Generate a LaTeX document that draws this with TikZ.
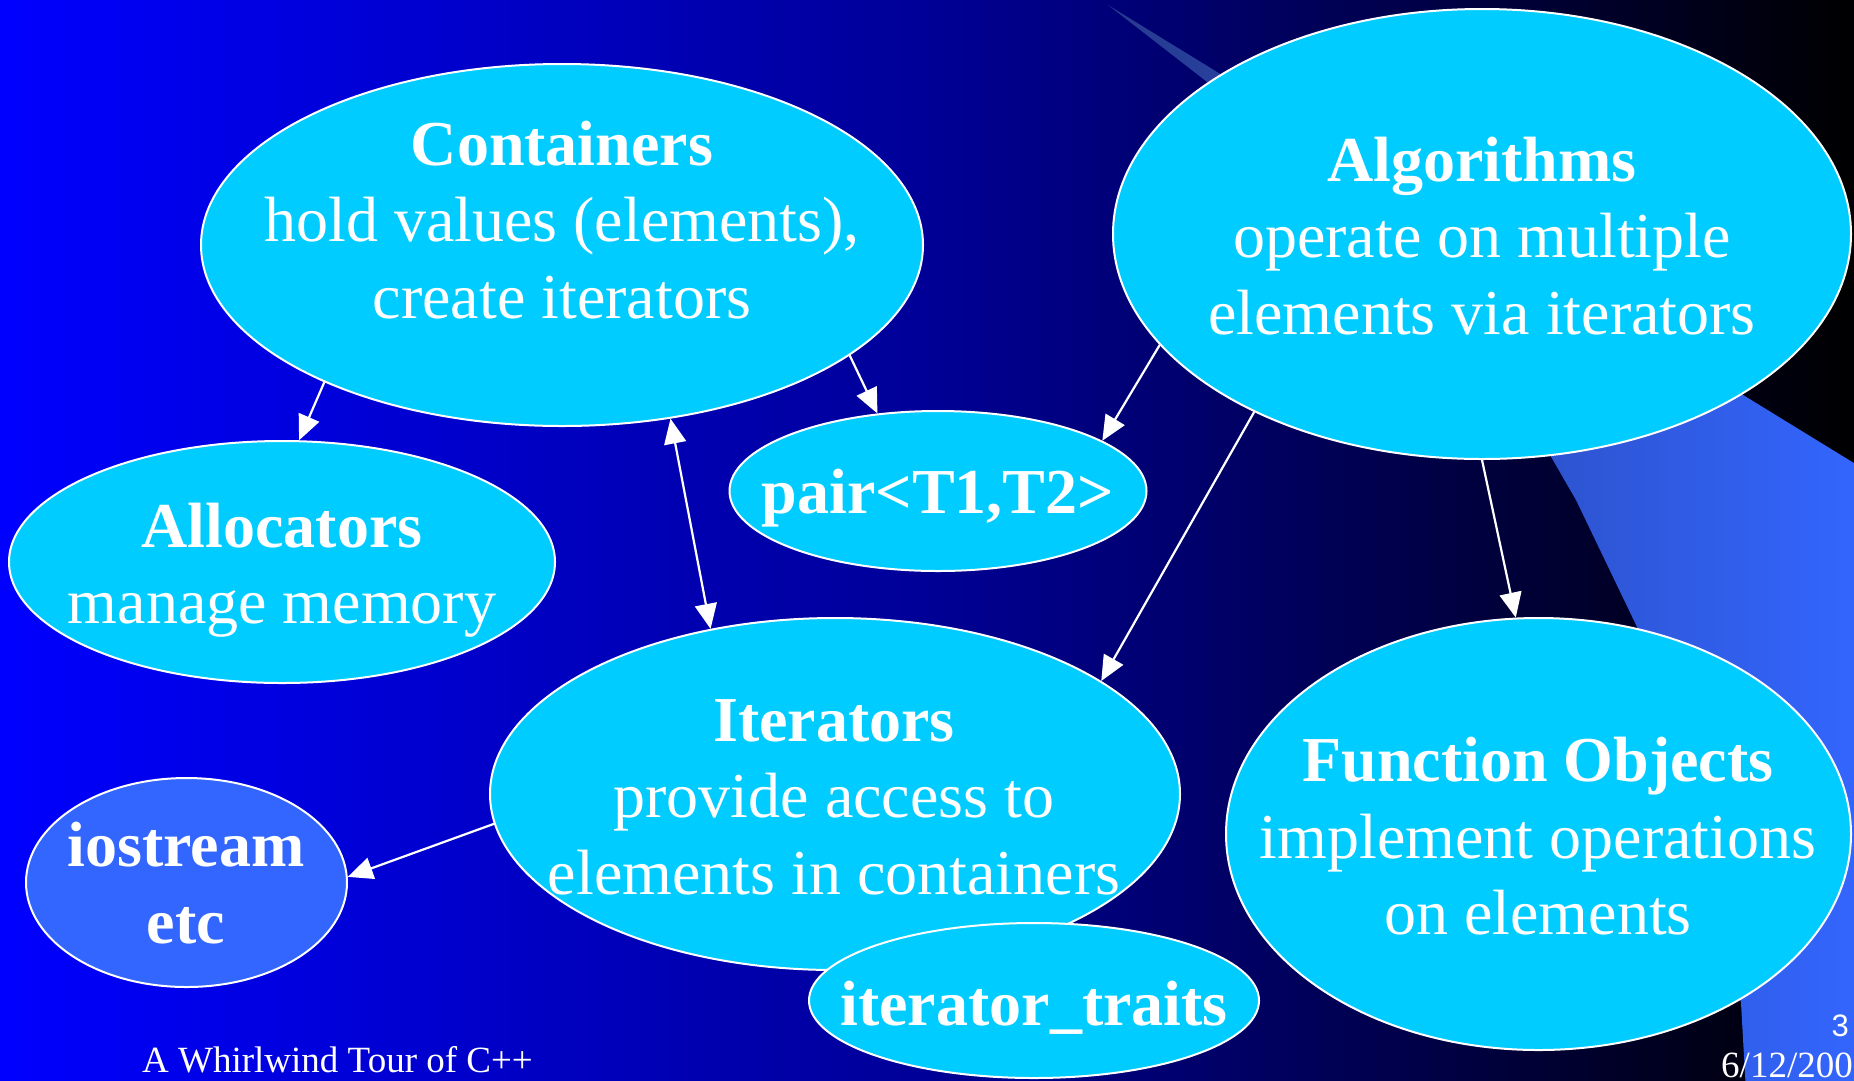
\documentclass[tikz,border=0pt]{standalone}
\usepackage{fontspec}
\setmainfont{Liberation Serif}
\newfontfamily\sansf{Liberation Sans}
\usetikzlibrary{shapes.geometric,arrows.meta}
\definecolor{cyanfill}{HTML}{00CCFF}
\definecolor{iofill}{HTML}{3366FF}
\definecolor{bandL}{RGB}{38,58,140}
\definecolor{bandR}{HTML}{3366FF}
\pgfdeclarehorizontalshading{bgshade}{100bp}{rgb(0bp)=(0,0,1); rgb(25bp)=(0,0,1); rgb(50bp)=(0,0,0.59); rgb(65bp)=(0,0,0.24); rgb(75bp)=(0,0,0); rgb(100bp)=(0,0,0)}
\tikzset{
  ell/.style={ellipse, draw=white, line width=2pt, fill=cyanfill, inner sep=0pt},
  lbl/.style={text=white, align=center, inner sep=0pt, font=\fontsize{64}{76.5}\selectfont},
  arr/.style={draw=white, line width=2.2pt, -{Triangle[length=25pt,width=22pt]}},
  darr/.style={draw=white, line width=2.2pt, {Triangle[length=25pt,width=22pt]}-{Triangle[length=25pt,width=22pt]}},
  foottext/.style={text=white, inner sep=0pt, font=\fontsize{37}{44}\selectfont},
}
\begin{document}
\begin{tikzpicture}[x=1pt,y=-1pt]
\useasboundingbox (0,0) rectangle (1854,1080);
% background
\path[shading=bgshade] (0,-6) rectangle (1854,1090);
% decorative band
\path[left color=bandL, right color=bandR]
  (1108,5) -- (1862,468) -- (1862,1092) -- (1746,1092) -- (1741,1003)
  .. controls (1700,820) and (1660,700) .. (1638,629)
  -- (1576,500) -- (1550,455) -- (1300,170) -- (1220,92) -- cycle;

% ellipses
\node[ell, minimum width=722pt, minimum height=362pt] (cont) at (562,245) {};
\node[ell, minimum width=738pt, minimum height=450pt] (alg) at (1482,234) {};
\node[ell, minimum width=417pt, minimum height=160pt] (pair) at (938,491) {};
\node[ell, minimum width=546pt, minimum height=242pt] (alloc) at (282,562) {};
\node[ell, minimum width=690pt, minimum height=352pt] (iter) at (835,794) {};
\node[ell, minimum width=450pt, minimum height=155pt] (traits) at (1034,1000.5) {};
\node[ell, fill=iofill, minimum width=321pt, minimum height=209pt] (ios) at (186.5,882.5) {};
\node[ell, minimum width=625pt, minimum height=432pt] (func) at (1538.5,834) {};

% connectors
\draw[arr] (cont.210) -- (alloc.82);
\draw[arr] (cont.-21) -- (pair.128);
\draw[darr] (cont.-58) -- (iter.127);
\draw[arr] (alg.199) -- (pair.17.5);
\draw[arr] (alg.218) -- (iter.23);
\draw[arr] (alg.-90) -- (func.96);
\draw[arr] (iter.185.5) -- (ios.2.5);

% texts
\node[lbl] (contT) at (562,226.2) {\strut\textbf{Containers}\\\strut hold values (elements),\\\strut create iterators};
\node[lbl] (algT) at (1482,242.2) {\strut\textbf{Algorithms}\\\strut operate on multiple\\\strut elements via iterators};
\node[lbl, anchor=base] (pairT) at (938,513) {\textbf{pair<T1,T2>}};
\node[lbl] (allocT) at (282,570.2) {\strut\textbf{Allocators}\\\strut manage memory};
\node[lbl] (iterT) at (834,802.2) {\strut\textbf{Iterators}\\\strut provide access to\\\strut elements in containers};
\node[lbl, anchor=base] (traitsT) at (1034,1025) {\textbf{iterator\_traits}};
\node[lbl] (iosT) at (186,889.7) {\strut\textbf{iostream}\\\strut\textbf{etc}};
\node[lbl] (funcT) at (1538,842.7) {\strut\textbf{Function Objects}\\\strut implement operations\\\strut on elements};

% footer
\node[foottext, anchor=base west] (foot) at (142,1072) {A Whirlwind Tour of C++};
\node[text=white, inner sep=0pt, anchor=base east, font=\fontsize{31}{37}\sansf] (pg) at (1849,1036) {3};
\node[foottext, anchor=base west] (date) at (1721,1077) {6/12/200};
\end{tikzpicture}
\end{document}
